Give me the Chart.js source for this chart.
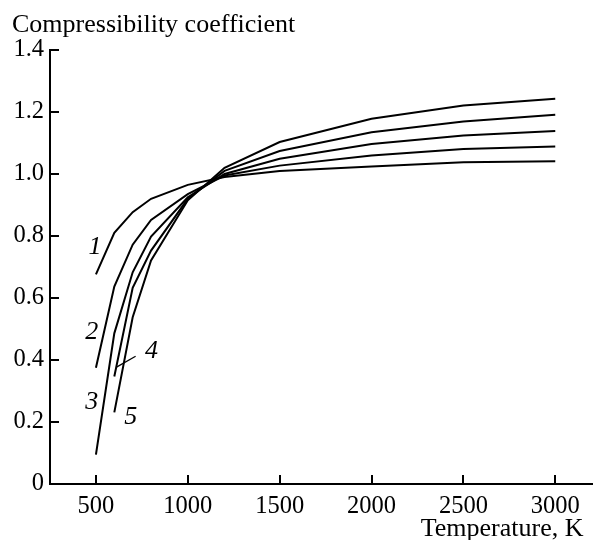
<!DOCTYPE html>
<html>
<head>
<meta charset="utf-8">
<script src="https://cdn.jsdelivr.net/npm/chart.js@4/dist/chart.umd.min.js"></script>
<style>
  html, body { margin: 0; padding: 0; background: #fff; }
  #wrap { width: 593px; height: 540px; }
</style>
</head>
<body>
<div id="wrap"><canvas id="chart" width="593" height="540"></canvas></div>
<script>
"use strict";

// temperature, K
const temperature = [500, 600, 700, 800, 1000, 1200, 1500, 2000, 2500, 3000];

// compressibility coefficient for curves 1..5
const curve1 = [0.676, 0.81, 0.877, 0.92, 0.965, 0.99, 1.01, 1.024, 1.038, 1.041];
const curve2 = [0.375, 0.637, 0.772, 0.852, 0.935, 0.995, 1.027, 1.06, 1.081, 1.089];
const curve3 = [0.095, 0.486, 0.683, 0.798, 0.925, 1.0, 1.049, 1.097, 1.124, 1.139];
const curve4 = [null, 0.347, 0.633, 0.753, 0.92, 1.01, 1.074, 1.135, 1.169, 1.191];
const curve5 = [null, 0.231, 0.538, 0.721, 0.915, 1.02, 1.103, 1.178, 1.221, 1.243];

const curveNames = ["1", "2", "3", "4", "5"];
const xTicks = [500, 1000, 1500, 2000, 2500, 3000];
const yTicks = [0, 0.2, 0.4, 0.6, 0.8, 1.0, 1.2, 1.4];

const yTitle = "Compressibility coefficient";
const xTitle = "Temperature, K";

const serif = "'Liberation Serif', 'DejaVu Serif', serif";

function toPoints(values) {
  return temperature
    .map((t, i) => ({ x: t, y: values[i] }))
    .filter((p) => p.y !== null);
}

const datasets = [curve1, curve2, curve3, curve4, curve5].map((values, i) => ({
  label: curveNames[i],
  data: toPoints(values),
  borderColor: "#000",
  borderWidth: 2,
  pointRadius: 0,
  tension: 0,
  fill: false,
}));

// inward tick marks, axis titles and the italic curve numbers
const decorPlugin = {
  id: "decor",
  afterDraw(chart) {
    const ctx = chart.ctx;
    const xs = chart.scales.x;
    const ys = chart.scales.y;
    const area = chart.chartArea;
    ctx.save();
    ctx.strokeStyle = "#000";
    ctx.lineWidth = 2;
    ctx.beginPath();
    xTicks.forEach((t) => {
      const px = Math.round(xs.getPixelForValue(t));
      ctx.moveTo(px, area.bottom);
      ctx.lineTo(px, area.bottom - 9);
    });
    yTicks.forEach((v) => {
      const py = Math.round(ys.getPixelForValue(v));
      ctx.moveTo(area.left, py);
      ctx.lineTo(area.left + 9, py);
    });
    ctx.stroke();

    // leader for curve 4
    ctx.lineWidth = 1.3;
    ctx.beginPath();
    ctx.moveTo(xs.getPixelForValue(716), ys.getPixelForValue(0.412));
    ctx.lineTo(xs.getPixelForValue(612), ys.getPixelForValue(0.377));
    ctx.stroke();

    ctx.fillStyle = "#000";
    ctx.textBaseline = "alphabetic";
    ctx.font = "26px " + serif;
    ctx.textAlign = "left";
    ctx.fillText(yTitle, 12, 32);
    ctx.textAlign = "right";
    ctx.fillText(xTitle, 583.5, 536);

    const labels = [
      { t: 495, v: 0.765 },
      { t: 477, v: 0.49 },
      { t: 477, v: 0.264 },
      { t: 803, v: 0.43 },
      { t: 689, v: 0.215 },
    ];
    ctx.font = "italic 26px " + serif;
    ctx.textAlign = "center";
    ctx.textBaseline = "middle";
    labels.forEach((l, i) => {
      ctx.fillText(curveNames[i], xs.getPixelForValue(l.t), ys.getPixelForValue(l.v));
    });
    ctx.restore();
  },
};

new Chart(document.getElementById("chart"), {
  type: "line",
  data: { datasets: datasets },
  options: {
    responsive: false,
    animation: false,
    layout: { padding: { left: 0, right: 1, top: 50, bottom: 0 } },
    plugins: {
      legend: { display: false },
      tooltip: { enabled: false },
      title: { display: false },
    },
    scales: {
      x: {
        type: "linear",
        min: 250,
        max: 3200,
        afterBuildTicks: (scale) => {
          scale.ticks = xTicks.map((v) => ({ value: v }));
        },
        afterFit: (scale) => {
          scale.height = 56;
        },
        grid: { display: false, drawTicks: false },
        border: { display: true, color: "#000", width: 2 },
        ticks: {
          color: "#000",
          padding: 8,
          maxRotation: 0,
          font: { family: serif, size: 24.5 },
          callback: (v) => String(v),
        },
      },
      y: {
        min: 0,
        max: 1.4,
        afterBuildTicks: (scale) => {
          scale.ticks = yTicks.map((v) => ({ value: v }));
        },
        afterFit: (scale) => {
          scale.width = 50;
        },
        grid: { display: false, drawTicks: false },
        border: { display: true, color: "#000", width: 2 },
        ticks: {
          color: "#000",
          padding: 6,
          font: { family: serif, size: 24.5 },
          callback: (v) => (v === 0 ? "0" : v.toFixed(1)),
        },
      },
    },
  },
  plugins: [decorPlugin],
});
</script>
</body>
</html>
